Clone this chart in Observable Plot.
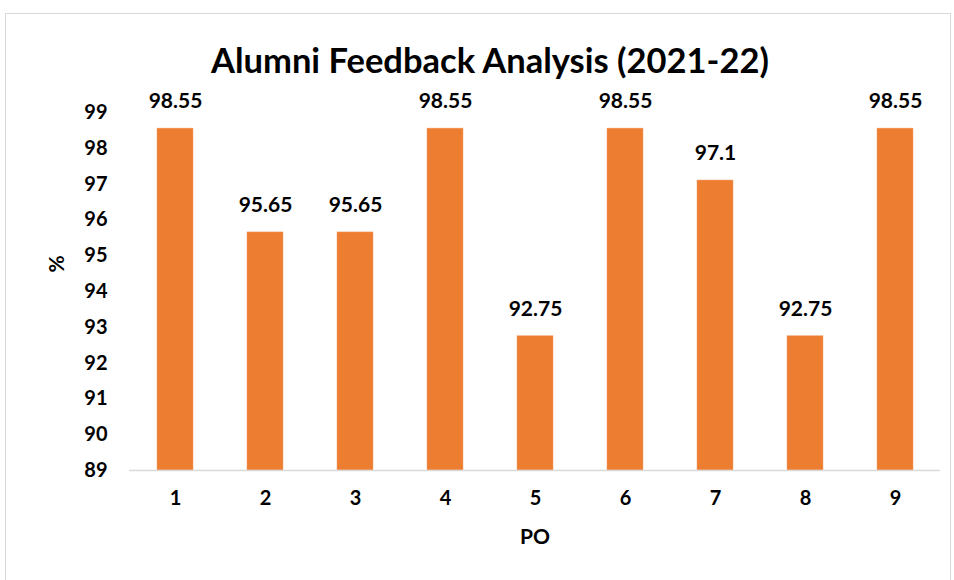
<!DOCTYPE html>
<html><head><meta charset="utf-8">
<script src="https://cdn.jsdelivr.net/npm/d3@7"></script>
<script src="https://cdn.jsdelivr.net/npm/@observablehq/plot@0.6"></script>
<style>
html,body{margin:0;padding:0;background:#fff;}
#chart{position:relative;width:954px;height:580px;}
#frame{position:absolute;left:5px;top:13px;width:946px;height:580px;border:1px solid #d9d9d9;box-sizing:border-box;pointer-events:none;}
</style>
</head><body>
<div id="chart"><div id="frame"></div></div>
<script>
const title = "Alumni Feedback Analysis (2021-22)";
const categories = ["1","2","3","4","5","6","7","8","9"];
const values = [98.55, 95.65, 95.65, 98.55, 92.75, 98.55, 97.1, 92.75, 98.55];
const yTicks = [89,90,91,92,93,94,95,96,97,98,99];
const xLabel = "PO";
const yLabel = "%";

const data = categories.map((c,i)=>({po:c, v:values[i]}));
const font = "Lato, 'Open Sans', sans-serif";

const chart = Plot.plot({
  width: 954, height: 580,
  marginLeft: 129, marginRight: 14, marginTop: 112, marginBottom: 110,
  style: {fontFamily: font, fontSize: "20px", fontWeight: "bold", color: "#000", background: "transparent"},
  x: {domain: categories, paddingInner: 0.6, paddingOuter: 0.3, label: null},
  y: {domain: [89, 99], label: null},
  marks: [
    Plot.barY(data, {x: "po", y1: 89, y2: "v", fill: "#ED7D31", stroke: "#f3a06b", strokeWidth: 0.5}),
    Plot.ruleY([89], {stroke: "#d9d9d9", strokeWidth: 1.5}),
    Plot.axisY({ticks: yTicks, tickSize: 0, tickPadding: 22, label: null, fontSize: 20, fontWeight: "bold"}),
    Plot.axisX({tickSize: 0, tickPadding: 20, label: null, fontSize: 20, fontWeight: "bold"}),
    Plot.text(data, {x: "po", y: "v", text: d => String(d.v), dy: -27, fontSize: 21, fontWeight: "bold", fill: "#000"}),
    Plot.text([title], {frameAnchor: "top", dx: -45, dy: -64, fontSize: 34.5, fontWeight: "bold", fill: "#000"}),
    Plot.text([xLabel], {frameAnchor: "bottom", dy: 73, fontSize: 21, fontWeight: "bold", fill: "#000"}),
    Plot.text([yLabel], {frameAnchor: "left", dx: -72, dy: -19, rotate: -90, fontSize: 21, fontWeight: "bold", fill: "#000"})
  ]
});
document.getElementById("chart").prepend(chart);
</script>
</body></html>
